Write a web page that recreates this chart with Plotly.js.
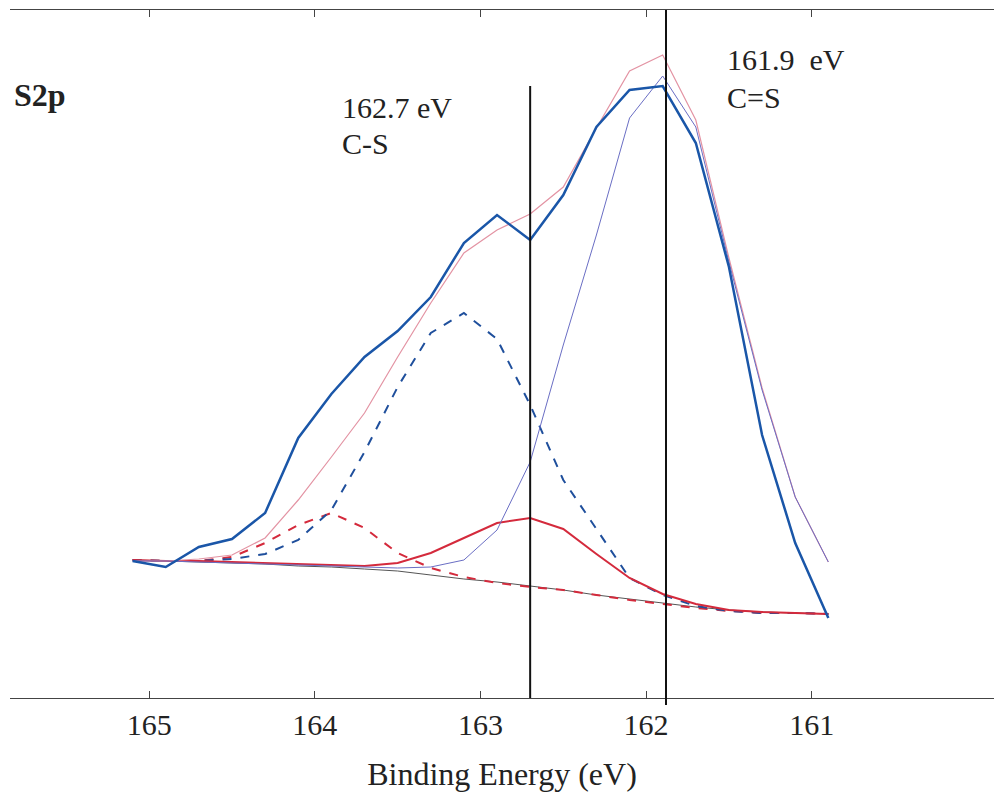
<!DOCTYPE html>
<html>
<head>
<meta charset="utf-8">
<script src="https://cdn.plot.ly/plotly-3.0.1.min.js"></script>
<style>html,body{margin:0;padding:0;background:#fff}#chart{width:994px;height:797px}</style>
</head>
<body>
<div id="chart"></div>
<script>
// Binding energy (eV)
const energy = [165.1,164.9,164.7,164.5,164.3,164.1,163.9,163.7,163.5,163.3,163.1,162.9,162.7,162.5,162.3,162.1,161.9,161.7,161.5,161.3,161.1,160.9];
// Measured spectrum (a.u.)
const measured = [13.7,13.1,15.1,15.9,18.5,26.0,30.4,34.1,36.7,40.1,45.5,48.3,45.8,50.3,57.1,60.8,61.2,55.5,43.1,26.3,15.5,8.0];
// Fitted envelope
const envelope = [13.7,13.7,13.9,14.3,16.0,19.8,24.1,28.5,34.1,39.5,44.5,46.8,48.4,51.1,57.0,62.7,64.3,57.8,44.0,31.0,20.1,13.6];
// C=S component
const compCS2 = [13.7,13.7,13.6,13.5,13.4,13.3,13.2,13.1,13.0,13.1,13.8,16.8,23.6,35.3,46.3,58.0,62.2,57.1,43.6,30.8,20.1,13.6];
// C-S component (blue dashed)
const compCS = [13.8,13.7,13.7,13.9,14.4,15.8,18.8,24.6,31.1,36.5,38.5,35.9,29.3,21.8,16.9,12.0,10.3,9.2,8.7,8.5,8.5,8.4];
// Red solid component
const compRed = [13.8,13.7,13.7,13.6,13.5,13.4,13.3,13.2,13.5,14.5,16.0,17.5,18.0,16.9,14.4,12.0,10.4,9.4,8.8,8.6,8.5,8.4];
// Red dashed component
const compRedDash = [13.8,13.7,13.7,14.1,15.5,17.3,18.5,17.0,14.5,13.0,12.1,11.5,11.1,10.8,10.3,9.8,9.4,9.0,8.7,8.5,8.5,8.4];
// Background
const background = [13.8,13.7,13.6,13.5,13.4,13.2,13.1,12.9,12.7,12.3,11.9,11.6,11.2,10.8,10.3,9.9,9.5,9.1,8.8,8.6,8.5,8.4];

const peakPositions = [162.7, 161.88];
const peakEnergyLabels = ["162.7 eV", "161.9\u00a0 eV"];
const peakBondLabels = ["C-S", "C=S"];
const tickVals = [165,164,163,162,161];

const serif = "Liberation Serif, Times New Roman, serif";
const txt = '#222';

const traces = [
  {x: energy, y: background, mode: 'lines', line: {color: '#555555', width: 1}},
  {x: energy, y: compRedDash, mode: 'lines', line: {color: '#d42a3c', width: 2, dash: 'dash'}},
  {x: energy, y: compCS, mode: 'lines', line: {color: '#1f4f9c', width: 2, dash: 'dash'}},
  {x: energy, y: compRed, mode: 'lines', line: {color: '#d42a3c', width: 2}},
  {x: energy, y: envelope, mode: 'lines', line: {color: '#e393a3', width: 1.2}},
  {x: energy, y: compCS2, mode: 'lines', line: {color: '#6a6ec4', width: 1}},
  {x: energy, y: measured, mode: 'lines', line: {color: '#1a56a8', width: 2.5}}
];

const layout = {
  width: 994, height: 797,
  margin: {l: 10, r: 0, t: 10, b: 99},
  paper_bgcolor: '#fff', plot_bgcolor: '#fff',
  showlegend: false,
  font: {family: serif, color: txt},
  xaxis: {
    range: [165.84, 159.9],
    tickvals: tickVals,
    ticktext: tickVals.map(String),
    ticks: 'inside', ticklen: 7, tickcolor: '#444', tickwidth: 1,
    showline: true, linecolor: '#444', linewidth: 1, mirror: 'ticks',
    showgrid: false, zeroline: false,
    tickfont: {family: serif, size: 30, color: txt},
    title: {text: 'Binding Energy (eV)', font: {family: serif, size: 32, color: txt}, standoff: 22}
  },
  yaxis: {
    range: [0, 68.8],
    showticklabels: false, showgrid: false, zeroline: false, showline: false, ticks: ''
  },
  shapes: [
    {type: 'line', xref: 'x', yref: 'y', x0: peakPositions[0], x1: peakPositions[0], y0: 0, y1: 61.2, line: {color: '#111', width: 2}},
    {type: 'line', xref: 'x', yref: 'paper', x0: peakPositions[1], x1: peakPositions[1], y0: -0.01, y1: 1, line: {color: '#111', width: 2}}
  ],
  annotations: [
    {xref: 'x', yref: 'y', x: 165.83, y: 60.3, text: '<b>S2p</b>', showarrow: false, xanchor: 'left', yanchor: 'middle', font: {family: serif, size: 32, color: txt}},
    {xref: 'x', yref: 'y', x: 163.85, y: 59.05, text: peakEnergyLabels[0], showarrow: false, xanchor: 'left', yanchor: 'middle', font: {family: serif, size: 30, color: txt}},
    {xref: 'x', yref: 'y', x: 163.85, y: 55.5, text: peakBondLabels[0], showarrow: false, xanchor: 'left', yanchor: 'middle', font: {family: serif, size: 30, color: txt}},
    {xref: 'x', yref: 'y', x: 161.525, y: 63.85, text: peakEnergyLabels[1], showarrow: false, xanchor: 'left', yanchor: 'middle', font: {family: serif, size: 30, color: txt}},
    {xref: 'x', yref: 'y', x: 161.525, y: 60.05, text: peakBondLabels[1], showarrow: false, xanchor: 'left', yanchor: 'middle', font: {family: serif, size: 30, color: txt}}
  ]
};

Plotly.newPlot('chart', traces, layout, {staticPlot: true, displayModeBar: false});
</script>
</body>
</html>
